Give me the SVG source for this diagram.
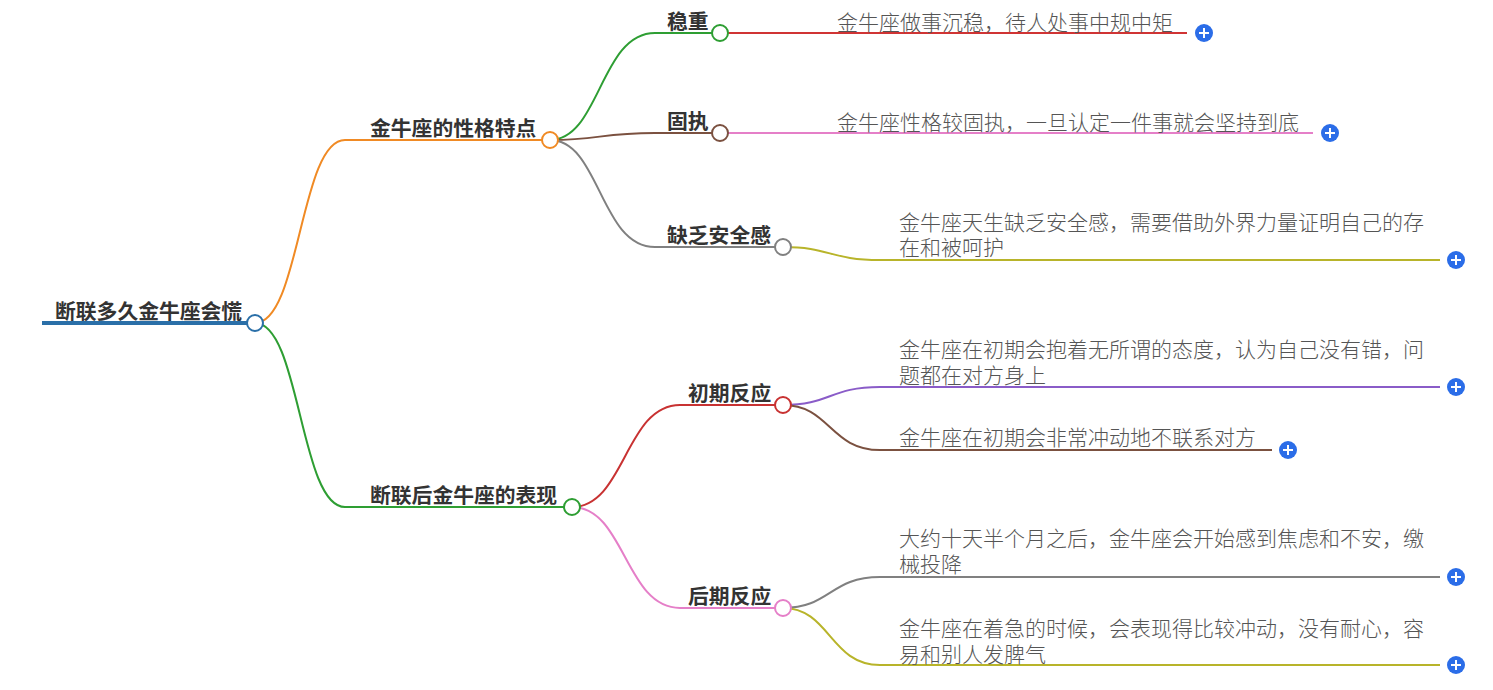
<svg xmlns="http://www.w3.org/2000/svg" width="1493" height="690" viewBox="0 0 1493 690">
<style>
.t{font-family:"Noto Sans CJK SC","Noto Sans",sans-serif;}
.b{font-size:20.8px;font-weight:bold;fill:#333;}
.l{font-size:21px;fill:#555;font-weight:300;}
.e{fill:none;stroke-width:2;}
.n{fill:#fff;stroke-width:2;}
.p circle{fill:#2b6de8;}
.p path{stroke:#fff;stroke-width:2;}
</style>
<rect width="1493" height="690" fill="#fff"/>
<g id="connectors">
<path class="e" d="M42 323H255" stroke="#2a6fa8" style="stroke-width:4"/>
<path class="e" stroke="#f08a24" d="M255 323C300 323 300 140 345 140H550"/>
<path class="e" stroke="#2e9e33" d="M255 323C300 323 300 507 345 507H572"/>
<path class="e" stroke="#2e9e33" d="M550 140C600 140 600 33 655 33H720"/>
<path class="e" stroke="#7b5140" d="M550 140C600 140 600 133 655 133H720"/>
<path class="e" stroke="#808080" d="M550 140C600 140 600 247 655 247H783"/>
<path class="e" stroke="#d03434" d="M720 33H1187"/>
<path class="e" stroke="#e57fc8" d="M720 133H1313"/>
<path class="e" stroke="#b8b42a" d="M783 247C830 247 830 260 880 260H1440"/>
<path class="e" stroke="#c83232" d="M572 507C625 507 625 405 680 405H783"/>
<path class="e" stroke="#e57fc8" d="M572 507C625 507 625 608 680 608H783"/>
<path class="e" stroke="#8a5cc8" d="M783 405C830 405 830 387 880 387H1440"/>
<path class="e" stroke="#7b5140" d="M783 405C830 405 830 450 880 450H1272"/>
<path class="e" stroke="#808080" d="M783 608C830 608 830 577 880 577H1440"/>
<path class="e" stroke="#b8b42a" d="M783 608C830 608 830 665 880 665H1440"/>
</g>
<g id="root"><text class="t b" x="55" y="319">断联多久金牛座会慌</text><circle class="n" cx="255" cy="323" r="8" stroke="#2a6fa8"/></g>
<g id="n1"><text class="t b" x="370" y="136">金牛座的性格特点</text><circle class="n" cx="550" cy="140" r="8" stroke="#f08a24"/></g>
<g id="n2"><text class="t b" x="370" y="503">断联后金牛座的表现</text><circle class="n" cx="572" cy="507" r="8" stroke="#2e9e33"/></g>
<g id="n11"><text class="t b" x="667" y="29">稳重</text><circle class="n" cx="720" cy="33" r="8" stroke="#2e9e33"/></g>
<g id="n12"><text class="t b" x="667" y="129">固执</text><circle class="n" cx="720" cy="133" r="8" stroke="#7b5140"/></g>
<g id="n13"><text class="t b" x="667" y="243">缺乏安全感</text><circle class="n" cx="783" cy="247" r="8" stroke="#808080"/></g>
<g id="n21"><text class="t b" x="688" y="401">初期反应</text><circle class="n" cx="783" cy="405" r="8" stroke="#c83232"/></g>
<g id="n22"><text class="t b" x="688" y="604">后期反应</text><circle class="n" cx="783" cy="608" r="8" stroke="#e57fc8"/></g>
<g id="l111"><text class="t l" x="837" y="30">金牛座做事沉稳，待人处事中规中矩</text><g class="p"><circle cx="1204" cy="33" r="9"/><path d="M1199 33H1209M1204 28V38"/></g></g>
<g id="l121"><text class="t l" x="837" y="130">金牛座性格较固执，一旦认定一件事就会坚持到底</text><g class="p"><circle cx="1330" cy="133" r="9"/><path d="M1325 133H1335M1330 128V138"/></g></g>
<g id="l131"><text class="t l" x="899" y="230">金牛座天生缺乏安全感，需要借助外界力量证明自己的存</text><text class="t l" x="899" y="255">在和被呵护</text><g class="p"><circle cx="1456" cy="260" r="9"/><path d="M1451 260H1461M1456 255V265"/></g></g>
<g id="l211"><text class="t l" x="899" y="357">金牛座在初期会抱着无所谓的态度，认为自己没有错，问</text><text class="t l" x="899" y="383">题都在对方身上</text><g class="p"><circle cx="1456" cy="387" r="9"/><path d="M1451 387H1461M1456 382V392"/></g></g>
<g id="l212"><text class="t l" x="899" y="445">金牛座在初期会非常冲动地不联系对方</text><g class="p"><circle cx="1288" cy="450" r="9"/><path d="M1283 450H1293M1288 445V455"/></g></g>
<g id="l221"><text class="t l" x="899" y="546">大约十天半个月之后，金牛座会开始感到焦虑和不安，缴</text><text class="t l" x="899" y="572">械投降</text><g class="p"><circle cx="1456" cy="577" r="9"/><path d="M1451 577H1461M1456 572V582"/></g></g>
<g id="l222"><text class="t l" x="899" y="636">金牛座在着急的时候，会表现得比较冲动，没有耐心，容</text><text class="t l" x="899" y="662">易和别人发脾气</text><g class="p"><circle cx="1456" cy="665" r="9"/><path d="M1451 665H1461M1456 660V670"/></g></g>
</svg>
